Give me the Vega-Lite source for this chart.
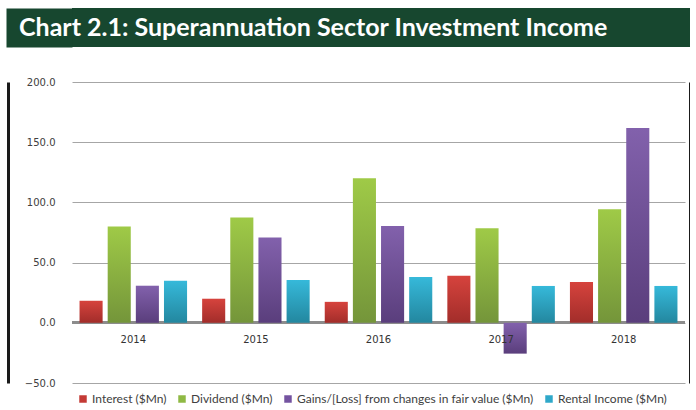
{
  "$schema": "https://vega.github.io/schema/vega-lite/v6.json",
  "padding": {"left": 8, "top": 8, "right": 0, "bottom": 0},
  "background": "white",
  "spacing": 30,
  "align": "none",
  "config": {"view": {"stroke": null}, "font": "DejaVu Sans"},
  "datasets": {
    "income": [
      {"year": "2014", "series": "Interest ($Mn)", "value": 18.3},
      {"year": "2014", "series": "Dividend ($Mn)", "value": 80},
      {"year": "2014", "series": "Gains/[Loss] from changes in fair value ($Mn)", "value": 30.8},
      {"year": "2014", "series": "Rental Income ($Mn)", "value": 35},
      {"year": "2015", "series": "Interest ($Mn)", "value": 20},
      {"year": "2015", "series": "Dividend ($Mn)", "value": 87.5},
      {"year": "2015", "series": "Gains/[Loss] from changes in fair value ($Mn)", "value": 70.8},
      {"year": "2015", "series": "Rental Income ($Mn)", "value": 35.6},
      {"year": "2016", "series": "Interest ($Mn)", "value": 17.4},
      {"year": "2016", "series": "Dividend ($Mn)", "value": 120},
      {"year": "2016", "series": "Gains/[Loss] from changes in fair value ($Mn)", "value": 80.3},
      {"year": "2016", "series": "Rental Income ($Mn)", "value": 38.1},
      {"year": "2017", "series": "Interest ($Mn)", "value": 39},
      {"year": "2017", "series": "Dividend ($Mn)", "value": 78.6},
      {"year": "2017", "series": "Gains/[Loss] from changes in fair value ($Mn)", "value": -25.6},
      {"year": "2017", "series": "Rental Income ($Mn)", "value": 30.6},
      {"year": "2018", "series": "Interest ($Mn)", "value": 33.9},
      {"year": "2018", "series": "Dividend ($Mn)", "value": 94.3},
      {"year": "2018", "series": "Gains/[Loss] from changes in fair value ($Mn)", "value": 161.7},
      {"year": "2018", "series": "Rental Income ($Mn)", "value": 30.6}
    ]
  },
  "vconcat": [
    {
      "width": 618,
      "height": 39,
      "view": {"fill": "#17472f", "stroke": null},
      "data": {"values": [{"label": "Chart 2.1: Superannuation Sector Investment Income"}]},
      "mark": {"type": "text", "align": "left", "baseline": "middle", "font": "Lato", "fontWeight": "bold", "fontSize": 25, "color": "white", "dx": -53},
      "encoding": {
        "x": {"datum": 0, "type": "quantitative", "scale": {"domain": [0, 1]}, "axis": null},
        "y": {"datum": 0.5, "type": "quantitative", "scale": {"domain": [0, 1]},
          "axis": {"orient": "left", "offset": 33, "labels": false, "ticks": false, "grid": false, "title": null, "domain": true, "domainColor": "#17472f", "domainWidth": 66, "domainCap": "butt"}},
        "text": {"field": "label"}
      }
    },
    {
      "width": 613,
      "height": 301,
      "data": {"name": "income"},
      "resolve": {"axis": {"y": "independent"}},
      "encoding": {
        "x": {"field": "year", "type": "nominal", "axis": null, "scale": {"paddingInner": 0.1, "paddingOuter": 0.05}},
        "xOffset": {"field": "series", "type": "nominal", "sort": ["Interest ($Mn)", "Dividend ($Mn)", "Gains/[Loss] from changes in fair value ($Mn)", "Rental Income ($Mn)"], "scale": {"paddingInner": 0.18, "paddingOuter": 0.05}}
      },
      "layer": [
        {
          "mark": {"type": "bar", "opacity": 0},
          "encoding": {
            "y": {"field": "value", "type": "quantitative", "scale": {"domain": [-50, 200], "nice": false},
              "axis": {"values": [-50, 0, 50, 100, 150, 200], "format": ".1f", "title": null, "offset": 64, "tickSize": 0, "ticks": false, "labelPadding": -47, "labelFontSize": 10, "labelColor": "#404040", "gridColor": "#a6a6a6", "gridWidth": 1, "domain": true, "domainColor": "#1a1a1a", "domainWidth": 3}},
            "color": {"field": "series", "type": "nominal", "sort": ["Interest ($Mn)", "Dividend ($Mn)", "Gains/[Loss] from changes in fair value ($Mn)", "Rental Income ($Mn)"],
              "scale": {"range": ["#c43a35", "#8fb944", "#7453a0", "#2fa8c9"]},
              "legend": {"orient": "bottom", "direction": "horizontal", "title": null, "symbolType": "square", "symbolSize": 56, "symbolOpacity": 1, "labelFont": "Lato", "labelFontSize": 12, "labelColor": "#404040", "labelLimit": 0, "labelOffset": 3, "offset": 0, "padding": 5, "columnPadding": 9, "symbolStrokeWidth": 0}}
          }
        },
        {
          "mark": {"type": "rule", "color": "#8c8c8c", "strokeWidth": 2},
          "encoding": {
            "x": null,
            "xOffset": null,
            "y": {"datum": 0, "type": "quantitative", "axis": {"orient": "right", "offset": 5, "labels": false, "ticks": false, "grid": false, "title": null, "domain": true, "domainColor": "#1a1a1a", "domainWidth": 3}}
          }
        },
        {
          "transform": [{"filter": "datum.series === 'Interest ($Mn)'"}],
          "mark": {"type": "bar", "color": {"gradient": "linear", "x1": 0, "y1": 0, "x2": 0, "y2": 1, "stops": [{"offset": 0, "color": "#d6433d"}, {"offset": 1, "color": "#a22d2a"}]}},
          "encoding": {"y": {"field": "value", "type": "quantitative", "axis": null}}
        },
        {
          "transform": [{"filter": "datum.series === 'Dividend ($Mn)'"}],
          "mark": {"type": "bar", "color": {"gradient": "linear", "x1": 0, "y1": 0, "x2": 0, "y2": 1, "stops": [{"offset": 0, "color": "#9fca47"}, {"offset": 1, "color": "#74953a"}]}},
          "encoding": {"y": {"field": "value", "type": "quantitative", "axis": null}}
        },
        {
          "transform": [{"filter": "datum.series === 'Gains/[Loss] from changes in fair value ($Mn)'"}],
          "mark": {"type": "bar", "color": {"gradient": "linear", "x1": 0, "y1": 0, "x2": 0, "y2": 1, "stops": [{"offset": 0, "color": "#8261ac"}, {"offset": 1, "color": "#5a3e7c"}]}},
          "encoding": {"y": {"field": "value", "type": "quantitative", "axis": null}}
        },
        {
          "transform": [{"filter": "datum.series === 'Rental Income ($Mn)'"}],
          "mark": {"type": "bar", "color": {"gradient": "linear", "x1": 0, "y1": 0, "x2": 0, "y2": 1, "stops": [{"offset": 0, "color": "#36b9da"}, {"offset": 1, "color": "#23879f"}]}},
          "encoding": {"y": {"field": "value", "type": "quantitative", "axis": null}}
        },
        {
          "transform": [{"aggregate": [{"op": "count", "as": "n"}], "groupby": ["year"]}],
          "mark": {"type": "text", "dy": 17, "baseline": "middle", "fontSize": 10, "color": "#333333"},
          "encoding": {
            "xOffset": null,
            "y": {"datum": 0, "type": "quantitative", "axis": null},
            "text": {"field": "year"}
          }
        }
      ]
    }
  ]
}
